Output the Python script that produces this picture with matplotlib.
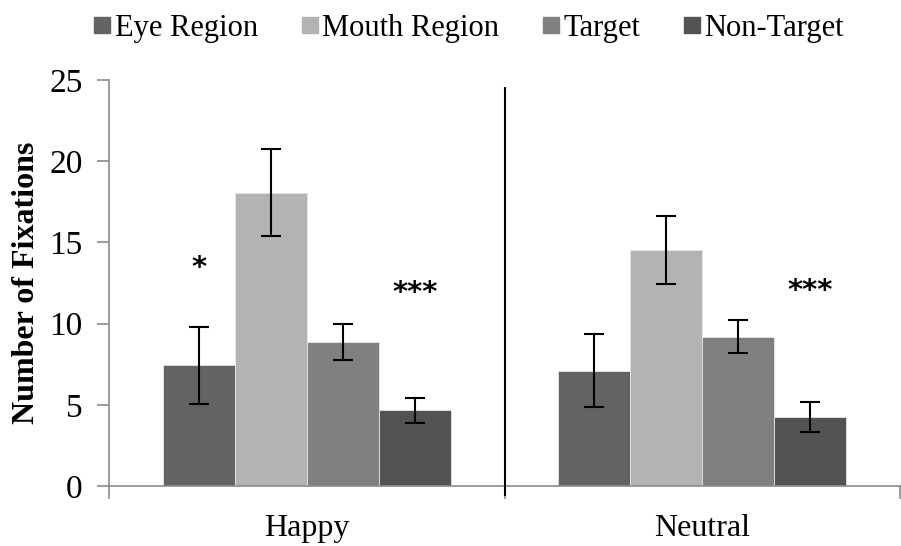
import numpy as np
import matplotlib.pyplot as plt
from matplotlib.lines import Line2D

plt.rcParams['font.family'] = ['Liberation Serif', 'DejaVu Serif']

# data
groups = ['Happy', 'Neutral']
series = ['Eye Region', 'Mouth Region', 'Target', 'Non-Target']
means = {
    'Eye Region':   [7.42, 7.11],
    'Mouth Region': [18.07, 14.52],
    'Target':       [8.84, 9.20],
    'Non-Target':   [4.65, 4.24],
}
errors = {
    'Eye Region':   [2.40, 2.24],
    'Mouth Region': [2.67, 2.10],
    'Target':       [1.11, 1.00],
    'Non-Target':   [0.77, 0.92],
}
colors = ['#636363', '#b3b3b3', '#808080', '#535353']
# significance marks: (group index, series index, y, text)
stars = [(0, 0, 13.4, '*'), (0, 3, 11.9, '***'), (1, 3, 12.0, '***')]

fig = plt.figure(figsize=(9.01, 5.46), dpi=100)
ax = fig.add_axes([0.1210, 0.1099, 0.8779, 0.7436])

x = np.arange(len(groups))
width = 0.182
offsets = (np.arange(len(series)) - 1.5) * width

for i, name in enumerate(series):
    ax.bar(x + offsets[i], means[name], width, color=colors[i],
           edgecolor='#e6e6e6', linewidth=0.6, label=name, zorder=2)
    ax.errorbar(x + offsets[i], means[name], yerr=errors[name], fmt='none',
                ecolor='black', elinewidth=1.5, capsize=7, capthick=1.5, zorder=3)

for g, s, y, txt in stars:
    ax.text(x[g] + offsets[s], y, txt, ha='center', va='center', fontsize=21,
            family='DejaVu Sans', fontweight='bold')

# divider between the two groups
ax.plot([0.5, 0.5], [-0.55, 24.5], color='black', linewidth=1.5,
        clip_on=False, zorder=4)

ax.set_xlim(-0.5, 1.5)
ax.set_ylim(0, 25)
ax.set_yticks([0, 5, 10, 15, 20, 25])
ax.set_xticks(x)
ax.set_xticklabels(groups)
ax.set_xticks([-0.5, 0.5, 1.5], minor=True)
ax.tick_params(axis='x', which='major', length=0, pad=20, labelsize=23)
ax.tick_params(axis='x', which='minor', length=9, color='#8c8c8c', width=1.2)
ax.tick_params(axis='y', length=9, color='#8c8c8c', width=1.2, labelsize=24, pad=10)

for side in ['top', 'right']:
    ax.spines[side].set_visible(False)
for side in ['left', 'bottom']:
    ax.spines[side].set_color('#8c8c8c')
    ax.spines[side].set_linewidth(1.2)

ax.set_ylabel('Number of Fixations', fontsize=23, fontweight='bold', labelpad=6)

handles = [Line2D([], [], marker='s', linestyle='none', markersize=12,
                  markerfacecolor=c, markeredgecolor=c) for c in colors]
fig.legend(handles, series, loc='upper center', bbox_to_anchor=(0.52, 1.025),
           ncol=4, frameon=False, fontsize=22, handlelength=0.6,
           handletextpad=0.1, columnspacing=1.4)

fig.savefig('out.png', dpi=100)
